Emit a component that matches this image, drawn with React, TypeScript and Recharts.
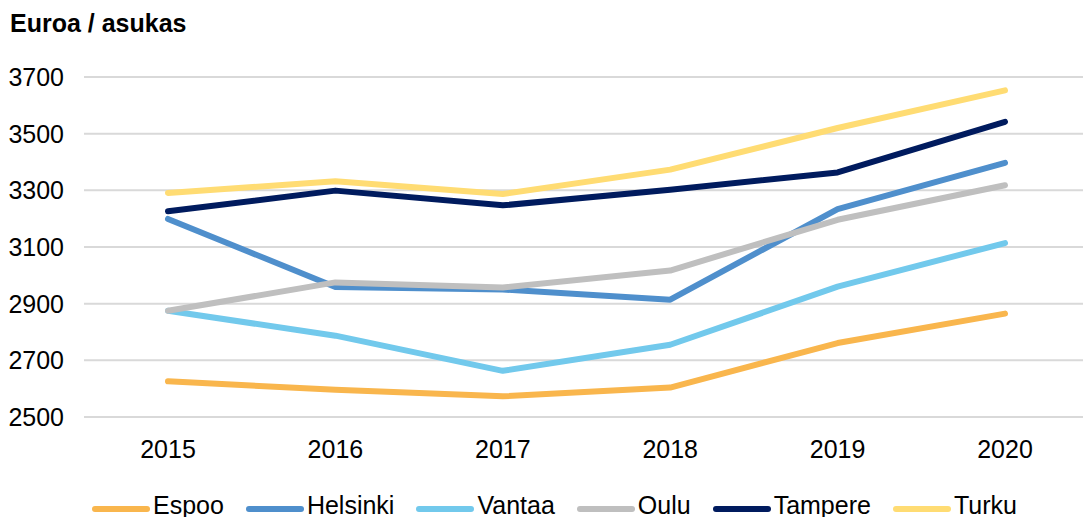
import { LineChart, Line, XAxis, YAxis, CartesianGrid } from "recharts";

const years = ["2015", "2016", "2017", "2018", "2019", "2020"];
const espoo = [2626, 2596, 2573, 2604, 2761, 2865];
const helsinki = [3199, 2959, 2950, 2914, 3234, 3397];
const vantaa = [2875, 2787, 2663, 2755, 2960, 3114];
const oulu = [2875, 2975, 2957, 3017, 3196, 3318];
const tampere = [3226, 3299, 3247, 3302, 3363, 3542];
const turku = [3291, 3332, 3287, 3373, 3520, 3653];
const yTicks = [2500, 2700, 2900, 3100, 3300, 3500, 3700];

const series = [
  { key: "Espoo", values: espoo, color: "#F9B64D" },
  { key: "Helsinki", values: helsinki, color: "#4F8FCC" },
  { key: "Vantaa", values: vantaa, color: "#72C9EC" },
  { key: "Oulu", values: oulu, color: "#BFBFBF" },
  { key: "Tampere", values: tampere, color: "#001B5E" },
  { key: "Turku", values: turku, color: "#FFDC73" },
];

const data = years.map((year, i) => {
  const row: Record<string, string | number> = { year };
  series.forEach((s) => {
    row[s.key] = s.values[i];
  });
  return row;
});

const font = "'Liberation Sans', Arial, sans-serif";

function LegendRow() {
  return (
    <div
      style={{
        position: "absolute",
        left: 92,
        top: 491,
        display: "flex",
        alignItems: "center",
        fontFamily: font,
        fontSize: 25,
        color: "#000",
        whiteSpace: "nowrap",
      }}
    >
      {series.map((s) => (
        <div key={s.key} style={{ display: "flex", alignItems: "center", marginRight: 22 }}>
          <svg width={58} height={28}>
            <line x1={3} y1={17} x2={55} y2={17} stroke={s.color} strokeWidth={6} strokeLinecap="round" />
          </svg>
          <span style={{ marginLeft: 3 }}>{s.key}</span>
        </div>
      ))}
    </div>
  );
}

export default function App() {
  return (
    <div
      style={{
        position: "absolute",
        left: 0,
        top: 0,
        width: 1083,
        height: 517,
        overflow: "hidden",
        background: "#fff",
      }}
    >
      <div
        style={{
          position: "absolute",
          left: 10,
          top: 9,
          fontFamily: font,
          fontSize: 25,
          fontWeight: "bold",
        }}
      >
        Euroa / asukas
      </div>
      <LineChart
        width={1089}
        height={517}
        data={data}
        margin={{ top: 77, right: 0, bottom: 0, left: 0 }}
        style={{ fontFamily: font }}
      >
        <CartesianGrid vertical={false} stroke="#D9D9D9" strokeWidth={2} />
        <XAxis
          dataKey="year"
          height={100}
          padding={{ left: 84, right: 84 }}
          axisLine={false}
          tickLine={false}
          tickSize={0}
          tickMargin={23}
          tick={{ fill: "#000", fontSize: 25 }}
          interval={0}
        />
        <YAxis
          domain={[2500, 3700]}
          ticks={yTicks}
          width={84}
          axisLine={false}
          tickLine={false}
          tickSize={0}
          tickMargin={20}
          tick={{ fill: "#000", fontSize: 25 }}
          interval={0}
        />
        {series.map((s) => (
          <Line
            key={s.key}
            type="linear"
            dataKey={s.key}
            stroke={s.color}
            strokeWidth={6}
            strokeLinecap="round"
            strokeLinejoin="round"
            dot={false}
            activeDot={false}
            isAnimationActive={false}
          />
        ))}
      </LineChart>
      <LegendRow />
    </div>
  );
}
